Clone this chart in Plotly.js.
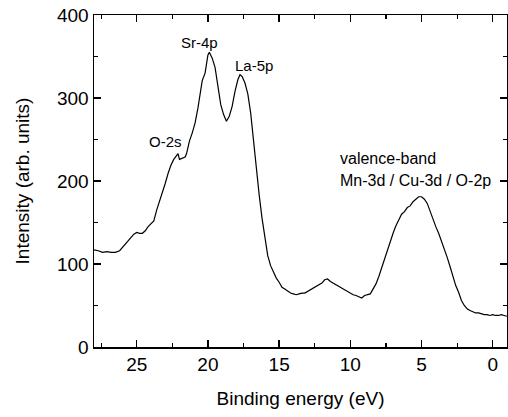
<!DOCTYPE html>
<html>
<head>
<meta charset="utf-8">
<script src="https://cdn.plot.ly/plotly-3.0.1.min.js"></script>
<style>html,body{margin:0;padding:0;background:#fff;}#chart{width:508px;height:417px;}</style>
</head>
<body>
<div id="chart"></div>
<script>
const bindingEnergy = [28.0, 27.7, 27.4, 27.1, 26.8, 26.5, 26.2, 26.0, 25.7, 25.4, 25.2, 25.0, 24.8, 24.6, 24.4, 24.2, 24.0, 23.8, 23.6, 23.4, 23.2, 23.0, 22.8, 22.6, 22.4, 22.2, 22.1, 22.0, 21.8, 21.6, 21.5, 21.3, 21.1, 20.9, 20.7, 20.5, 20.4, 20.2, 20.0, 19.9, 19.7, 19.5, 19.3, 19.1, 18.9, 18.7, 18.5, 18.3, 18.1, 17.9, 17.75, 17.6, 17.4, 17.2, 17.0, 16.8, 16.6, 16.4, 16.2, 16.0, 15.8, 15.6, 15.4, 15.2, 15.0, 14.8, 14.6, 14.4, 14.2, 14.0, 13.8, 13.6, 13.4, 13.2, 13.0, 12.8, 12.6, 12.4, 12.2, 12.0, 11.8, 11.6, 11.4, 11.2, 11.0, 10.8, 10.6, 10.4, 10.2, 10.0, 9.8, 9.6, 9.4, 9.2, 9.0, 8.8, 8.6, 8.4, 8.2, 8.0, 7.8, 7.6, 7.4, 7.2, 7.0, 6.8, 6.6, 6.4, 6.2, 6.0, 5.8, 5.6, 5.4, 5.2, 5.0, 4.8, 4.6, 4.4, 4.2, 4.0, 3.8, 3.6, 3.4, 3.2, 3.0, 2.8, 2.6, 2.4, 2.2, 2.0, 1.8, 1.6, 1.4, 1.2, 1.0, 0.8, 0.6, 0.4, 0.2, 0.0, -0.2, -0.4, -0.6, -0.8, -1.0];
const intensity = [117, 116, 114, 115, 114, 114, 116, 120, 126, 131, 136, 138, 137, 137, 140, 145, 148, 152, 165, 175, 186, 197, 209, 219, 226, 230, 233, 226, 228, 229, 233, 248, 258, 270, 288, 308, 321, 330, 352, 355, 348, 337, 312, 292, 280, 272, 278, 290, 308, 322, 328, 326, 318, 305, 282, 248, 213, 183, 155, 130, 110, 98, 90, 83, 78, 72, 70, 67, 65, 64, 63, 64, 65, 65, 67, 69, 70, 72, 74, 77, 81, 82, 79, 77, 75, 72, 70, 68, 66, 64, 63, 62, 60, 59, 62, 63, 64, 70, 76, 85, 96, 107, 118, 128, 137, 146, 153, 160, 163, 168, 170, 175, 178, 181, 181, 178, 173, 163, 154, 145, 137, 128, 118, 108, 97, 85, 74, 66, 56, 50, 46, 44, 42, 41, 41, 40, 39, 39, 38, 39, 38, 38, 39, 38, 37];

const peakLabels = ["O-2s", "Sr-4p", "La-5p"];
const peakLabelX = [23.0, 20.6, 16.8];
const peakLabelY = [247, 367, 339];
const bandLabels = ["valence-band", "Mn-3d / Cu-3d / O-2p"];
const bandLabelX = [10.9, 10.9];
const bandLabelY = [227, 201];

const xTickVals = [25, 20, 15, 10, 5, 0];
const yTickVals = [0, 100, 200, 300, 400];

const FONT = "Liberation Sans, Arial, sans-serif";

const annotations = [];
peakLabels.forEach((t, i) => annotations.push({
  x: peakLabelX[i], y: peakLabelY[i], xref: "x", yref: "y", text: t,
  showarrow: false, xanchor: "center", yanchor: "middle",
  font: {family: FONT, size: 15, color: "#000"}
}));
bandLabels.forEach((t, i) => annotations.push({
  x: bandLabelX[i], y: bandLabelY[i], xref: "x", yref: "y", text: t,
  showarrow: false, xanchor: "left", yanchor: "middle",
  font: {family: FONT, size: 16, color: "#000"}
}));

const axisCommon = {
  showgrid: false, zeroline: false, showline: true, linecolor: "#000", linewidth: 1.5,
  mirror: "allticks", ticks: "inside", ticklen: 7, tickwidth: 1.3, tickcolor: "#000",
  tickfont: {family: FONT, size: 19, color: "#000"}
};

Plotly.newPlot("chart", [{
  x: bindingEnergy, y: intensity, type: "scatter", mode: "lines",
  line: {color: "#000", width: 1.2}, hoverinfo: "skip"
}], {
  width: 508, height: 417,
  margin: {l: 94, r: 1, t: 15, b: 70},
  paper_bgcolor: "#fff", plot_bgcolor: "#fff",
  showlegend: false,
  xaxis: Object.assign({}, axisCommon, {
    range: [28, -1], tickvals: xTickVals, ticktext: xTickVals.map(String),
    minor: {dtick: 2.5, tick0: 0, ticks: "inside", ticklen: 4, tickwidth: 1.2, tickcolor: "#000"},
    title: {text: "Binding energy (eV)", font: {family: FONT, size: 19, color: "#000"}, standoff: 17}
  }),
  yaxis: Object.assign({}, axisCommon, {
    range: [0, 400], tickvals: yTickVals, ticktext: yTickVals.map(String),
    minor: {dtick: 50, tick0: 0, ticks: "inside", ticklen: 4, tickwidth: 1.2, tickcolor: "#000"},
    title: {text: "Intensity (arb. units)", font: {family: FONT, size: 19, color: "#000"}, standoff: 22}
  }),
  annotations: annotations
}, {staticPlot: true, displayModeBar: false});
</script>
</body>
</html>
